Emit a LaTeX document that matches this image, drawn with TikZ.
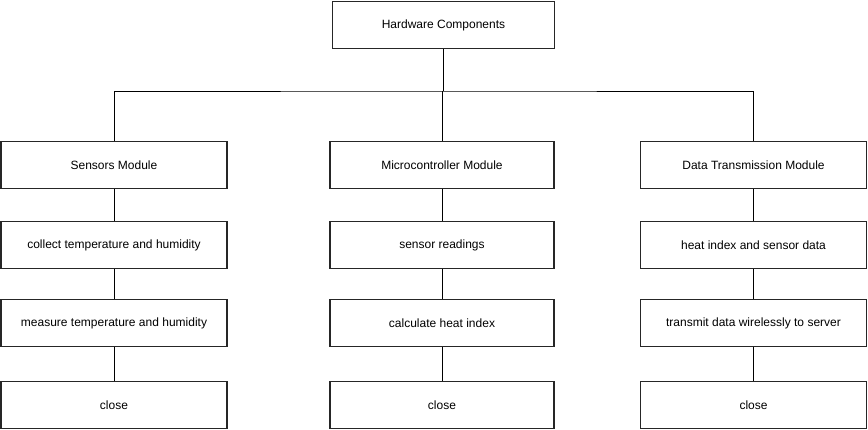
\documentclass[tikz,border=0pt]{standalone}
\usepackage{fontspec}
\setmainfont{Liberation Sans}
\usepackage{tikz}
\usetikzlibrary{positioning,calc}

\begin{document}
\begin{tikzpicture}[
  x=1pt,y=1pt,
  box/.style={draw,line width=1.4pt,draw=black!85,minimum width=225pt,minimum height=47pt,font=\fontsize{12}{14}\selectfont,fill=white},
  link/.style={draw,line width=0.9pt},
]
  \useasboundingbox (0,0) rectangle (868,-430);
  % top
  \node[box,minimum width=222pt] (hw) at (443.5,-25) {Hardware Components};
  % modules
  \node[box,minimum width=226pt] (sens)  at (114,-165)   {Sensors Module};
  \node[box,minimum width=224pt] (micro) at (442,-165)   {Microcontroller Module};
  \node[box,minimum width=226pt] (trans) at (753.5,-165) {Data Transmission Module};
  % steps
  \node[box,minimum width=226pt] (s1) at (114,-245) {collect temperature and humidity};
  \node[box,minimum width=226pt] (s2) at (114,-323) {measure temperature and humidity};
  \node[box,minimum width=226pt] (s3) at (114,-405) {close};
  \node[box,minimum width=224pt] (m1) at (442,-245) {sensor readings};
  \node[box,minimum width=224pt] (m2) at (442,-323) {calculate heat index};
  \node[box,minimum width=224pt] (m3) at (442,-405) {close};
  \node[box,minimum width=226pt] (t1) at (753.5,-245) {heat index and sensor data};
  \node[box,minimum width=226pt] (t2) at (753.5,-323) {transmit data wirelessly to server};
  \node[box,minimum width=226pt] (t3) at (753.5,-405) {close};
  \coordinate (bus) at (443.5,-91);
  \draw[link] (hw.south) -- (bus);
  \draw[link] (sens.north) |- (bus) -| (trans.north);
  \draw[link] (bus -| micro.north) -- (micro.north);
  \foreach \a/\b in {sens/s1,s1/s2,s2/s3,micro/m1,m1/m2,m2/m3,trans/t1,t1/t2,t2/t3}
    \draw[link] (\a.south) -- (\b.north);
\end{tikzpicture}
\end{document}
